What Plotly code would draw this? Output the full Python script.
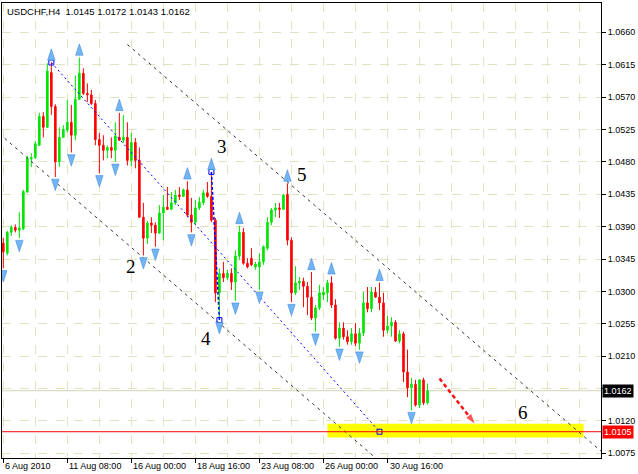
import plotly.graph_objects as go

# ---------------- data ----------------
bar_index = list(range(107))
opens = [1.0367, 1.0353, 1.0382, 1.0389, 1.0385, 1.0387, 1.0438, 1.0484, 1.0486, 1.0503,
         1.0543, 1.0528, 1.0604, 1.0557, 1.0480, 1.0514, 1.0524, 1.0535, 1.0517, 1.0567,
         1.0603, 1.0575, 1.0573, 1.0561, 1.0511, 1.0503, 1.0496, 1.0500, 1.0496, 1.0514,
         1.0510, 1.0514, 1.0482, 1.0507, 1.0482, 1.0403, 1.0374, 1.0395, 1.0392, 1.0381,
         1.0409, 1.0417, 1.0414, 1.0423, 1.0434, 1.0432, 1.0441, 1.0406, 1.0396, 1.0416,
         1.0423, 1.0437, 1.0432, 1.0399, 1.0298, 1.0325, 1.0319, 1.0325, 1.0313, 1.0349,
         1.0382, 1.0339, 1.0346, 1.0334, 1.0334, 1.0341, 1.0360, 1.0396, 1.0413, 1.0416,
         1.0414, 1.0435, 1.0371, 1.0298, 1.0312, 1.0314, 1.0307, 1.0292, 1.0263, 1.0277,
         1.0295, 1.0298, 1.0312, 1.0281, 1.0235, 1.0249, 1.0237, 1.0230, 1.0241, 1.0228,
         1.0242, 1.0284, 1.0276, 1.0299, 1.0292, 1.0284, 1.0246, 1.0252, 1.0257, 1.0231,
         1.0241, 1.0188, 1.0166, 1.0171, 1.0142, 1.0177, 1.0145]
highs = [1.0374, 1.0384, 1.0392, 1.0393, 1.0410, 1.0441, 1.0488, 1.0492, 1.0509, 1.0548,
         1.0549, 1.0617, 1.0618, 1.0560, 1.0528, 1.0531, 1.0566, 1.0559, 1.0600, 1.0625,
         1.0610, 1.0589, 1.0580, 1.0566, 1.0520, 1.0517, 1.0503, 1.0514, 1.0535, 1.0548,
         1.0545, 1.0535, 1.0520, 1.0513, 1.0500, 1.0423, 1.0398, 1.0403, 1.0396, 1.0420,
         1.0434, 1.0445, 1.0438, 1.0441, 1.0445, 1.0443, 1.0453, 1.0430, 1.0427, 1.0431,
         1.0441, 1.0452, 1.0466, 1.0402, 1.0332, 1.0341, 1.0330, 1.0332, 1.0357, 1.0391,
         1.0388, 1.0346, 1.0360, 1.0341, 1.0353, 1.0364, 1.0403, 1.0416, 1.0423, 1.0423,
         1.0435, 1.0450, 1.0375, 1.0335, 1.0320, 1.0319, 1.0313, 1.0327, 1.0281, 1.0309,
         1.0306, 1.0316, 1.0321, 1.0289, 1.0257, 1.0257, 1.0246, 1.0249, 1.0256, 1.0249,
         1.0299, 1.0306, 1.0306, 1.0306, 1.0312, 1.0298, 1.0266, 1.0264, 1.0260, 1.0246,
         1.0244, 1.0219, 1.0180, 1.0177, 1.0178, 1.0180, 1.0172]
lows = [1.0332, 1.0350, 1.0377, 1.0382, 1.0374, 1.0385, 1.0437, 1.0473, 1.0484, 1.0502,
        1.0514, 1.0527, 1.0545, 1.0459, 1.0473, 1.0513, 1.0521, 1.0493, 1.0510, 1.0566,
        1.0573, 1.0563, 1.0559, 1.0503, 1.0464, 1.0482, 1.0485, 1.0485, 1.0480, 1.0509,
        1.0506, 1.0475, 1.0474, 1.0471, 1.0402, 1.0350, 1.0366, 1.0381, 1.0362, 1.0380,
        1.0371, 1.0413, 1.0413, 1.0420, 1.0427, 1.0431, 1.0403, 1.0382, 1.0392, 1.0413,
        1.0420, 1.0430, 1.0396, 1.0285, 1.0260, 1.0313, 1.0316, 1.0302, 1.0287, 1.0344,
        1.0337, 1.0332, 1.0335, 1.0330, 1.0302, 1.0337, 1.0357, 1.0392, 1.0403, 1.0402,
        1.0413, 1.0364, 1.0285, 1.0295, 1.0302, 1.0278, 1.0267, 1.0260, 1.0244, 1.0274,
        1.0288, 1.0285, 1.0277, 1.0233, 1.0223, 1.0233, 1.0226, 1.0226, 1.0224, 1.0219,
        1.0238, 1.0271, 1.0271, 1.0291, 1.0274, 1.0237, 1.0242, 1.0237, 1.0230, 1.0228,
        1.0174, 1.0153, 1.0135, 1.0140, 1.0138, 1.0142, 1.0143]
closes = [1.0355, 1.0382, 1.0389, 1.0385, 1.0388, 1.0439, 1.0485, 1.0486, 1.0505, 1.0543,
          1.0528, 1.0606, 1.0557, 1.0480, 1.0514, 1.0525, 1.0535, 1.0517, 1.0567, 1.0603,
          1.0575, 1.0573, 1.0561, 1.0511, 1.0503, 1.0496, 1.0500, 1.0496, 1.0516, 1.0510,
          1.0514, 1.0482, 1.0507, 1.0482, 1.0403, 1.0374, 1.0395, 1.0392, 1.0381, 1.0409,
          1.0417, 1.0414, 1.0423, 1.0434, 1.0432, 1.0441, 1.0406, 1.0396, 1.0416, 1.0424,
          1.0437, 1.0432, 1.0399, 1.0298, 1.0325, 1.0319, 1.0325, 1.0313, 1.0349, 1.0382,
          1.0339, 1.0334, 1.0337, 1.0338, 1.0341, 1.0362, 1.0396, 1.0413, 1.0416, 1.0414,
          1.0434, 1.0371, 1.0298, 1.0312, 1.0314, 1.0307, 1.0292, 1.0263, 1.0277, 1.0298,
          1.0299, 1.0312, 1.0281, 1.0235, 1.0249, 1.0237, 1.0230, 1.0241, 1.0228, 1.0242,
          1.0284, 1.0276, 1.0299, 1.0292, 1.0284, 1.0246, 1.0252, 1.0257, 1.0231, 1.0241,
          1.0188, 1.0166, 1.0171, 1.0142, 1.0177, 1.0145, 1.0162]

x_tick_bars = [0, 16, 32, 48, 64, 80, 96]
x_tick_labels = ["6 Aug 2010", "11 Aug 08:00", "16 Aug 00:00", "18 Aug 16:00",
                 "23 Aug 08:00", "26 Aug 00:00", "30 Aug 16:00"]
x_grid_bars = [0, 8, 16, 24, 32, 40, 48, 56, 64, 72, 80, 88, 96, 104, 112, 120, 128, 136, 144]
y_tick_values = [1.0075, 1.0120, 1.0165, 1.0210, 1.0255, 1.0300, 1.0345, 1.0390,
                 1.0435, 1.0480, 1.0525, 1.0570, 1.0615, 1.0660]
# the 1.0165 label is hidden behind the bid price box in the original
y_tick_labels = ["1.0075", "1.0120", "", "1.0210", "1.0255", "1.0300", "1.0345", "1.0390",
                 "1.0435", "1.0480", "1.0525", "1.0570", "1.0615", "1.0660"]

fractal_up_bars = [12, 19, 29, 46, 52, 59, 71, 77, 82, 94]
fractal_down_bars = [0, 4, 13, 17, 24, 28, 35, 38, 47, 54, 58, 64, 72, 78, 84, 89, 102]

upper_channel_bars = [31, 150]
upper_channel_prices = [1.0643, 1.0075]
lower_channel_bars = [-1, 94]
lower_channel_prices = [1.0519, 1.0064]
wave_line_bars = [12, 94]
wave_line_prices = [1.0618, 1.0105]
wave34_bars = [52, 54]
wave34_prices = [1.0466, 1.0260]
target_arrow_bars = [109, 118]
target_arrow_prices = [1.0179, 1.0115]
target_zone_bars = [81, 145]
target_zone_prices = [1.0097, 1.0116]
target_level = 1.0105
bid_price = 1.0162

wave_labels = ["2", "3", "4", "5", "6"]
wave_label_bars = [31.9, 54.7, 50.7, 74.7, 129.9]
wave_label_prices = [1.0335, 1.0501, 1.0235, 1.0462, 1.0132]

title_text = "USDCHF,H4\u00a0 1.0145 1.0172 1.0143 1.0162"

# ---------------- figure ----------------
FONT = "Liberation Sans"
GRID = "#e2e2c2"
fig = go.Figure()

fig.add_shape(type="rect", xref="x", yref="y",
              x0=target_zone_bars[0], x1=target_zone_bars[1],
              y0=target_zone_prices[0], y1=target_zone_prices[1],
              fillcolor="#ffff00", line=dict(width=0), layer="between")
fig.add_shape(type="line", xref="paper", yref="y", x0=0, x1=1,
              y0=bid_price, y1=bid_price, line=dict(color="#d4d4bc", width=1), layer="between")

fig.add_trace(go.Candlestick(
    x=bar_index, open=opens, high=highs, low=lows, close=closes,
    increasing=dict(line=dict(color="#00e400", width=1), fillcolor="#00e400"),
    decreasing=dict(line=dict(color="#ff0000", width=1), fillcolor="#ff0000"),
    whiskerwidth=0, showlegend=False, hoverinfo="skip"))

fig.add_trace(go.Scatter(x=upper_channel_bars, y=upper_channel_prices, mode="lines",
                         line=dict(color="#303838", width=1, dash="3px,4px"),
                         showlegend=False, hoverinfo="skip"))
fig.add_trace(go.Scatter(x=lower_channel_bars, y=lower_channel_prices, mode="lines",
                         line=dict(color="#303838", width=1, dash="3px,4px"),
                         showlegend=False, hoverinfo="skip"))
fig.add_trace(go.Scatter(x=wave_line_bars, y=wave_line_prices, mode="lines+markers",
                         line=dict(color="#0000ff", width=1, dash="2px,3px"),
                         marker=dict(symbol="square-open", size=5, color="#0000ff", line=dict(width=1)),
                         showlegend=False, hoverinfo="skip"))
fig.add_trace(go.Scatter(x=wave34_bars, y=wave34_prices, mode="lines+markers",
                         line=dict(color="#0000ff", width=1.5, dash="3px,2px"),
                         marker=dict(symbol="square-open", size=5, color="#0000ff", line=dict(width=1)),
                         showlegend=False, hoverinfo="skip"))

fig.add_trace(go.Scatter(x=fractal_up_bars, y=[highs[i] + 0.0019 for i in fractal_up_bars],
                         mode="markers",
                         marker=dict(symbol="arrow", size=12, color="#73b4f4", angle=0,
                                     line=dict(color="#3f8de0", width=0.6)),
                         showlegend=False, hoverinfo="skip"))
fig.add_trace(go.Scatter(x=fractal_down_bars, y=[lows[i] - 0.0019 for i in fractal_down_bars],
                         mode="markers",
                         marker=dict(symbol="arrow", size=12, color="#73b4f4", angle=180,
                                     line=dict(color="#3f8de0", width=0.6)),
                         showlegend=False, hoverinfo="skip"))

fig.add_trace(go.Scatter(x=target_arrow_bars, y=target_arrow_prices, mode="lines+markers",
                         line=dict(color="#ff1010", width=2.5, dash="4px,3px"),
                         marker=dict(symbol="arrow", size=[0, 12], color="#ff1010", angleref="previous"),
                         showlegend=False, hoverinfo="skip"))

fig.add_shape(type="line", xref="paper", yref="y", x0=0, x1=1,
              y0=target_level, y1=target_level, line=dict(color="#ff0000", width=1), layer="above")

ann = []
for b, t in zip(x_tick_bars, x_tick_labels):
    ann.append(dict(x=b, y=0, xref="x", yref="paper", text=t, showarrow=False,
                    xanchor="left", yanchor="top", xshift=0, yshift=-1,
                    font=dict(family=FONT, size=9, color="black")))
for t, b, p in zip(wave_labels, wave_label_bars, wave_label_prices):
    ann.append(dict(x=b, y=p, xref="x", yref="y", text=t, showarrow=False,
                    font=dict(family="Liberation Serif", size=19, color="black")))
ann.append(dict(x=0, y=1, xref="paper", yref="paper", text=title_text, showarrow=False,
                xanchor="left", yanchor="top", xshift=3, yshift=-1,
                font=dict(family=FONT, size=9.5, color="black")))
ann.append(dict(x=1, y=bid_price, xref="paper", yref="y", text="1.0162", showarrow=False,
                xanchor="left", yanchor="middle", xshift=1, bgcolor="#000000",
                borderpad=1, font=dict(family=FONT, size=9, color="white")))
ann.append(dict(x=1, y=target_level, xref="paper", yref="y", text="1.0105", showarrow=False,
                xanchor="left", yanchor="middle", xshift=1, bgcolor="#ff0000",
                borderpad=1, font=dict(family=FONT, size=9, color="white")))

fig.update_layout(
    width=638, height=474,
    margin=dict(l=2, r=37, t=3, b=16),
    paper_bgcolor="white", plot_bgcolor="white",
    boxgap=0.45,
    annotations=ann,
    xaxis=dict(range=[-0.33, 149.35], rangeslider=dict(visible=False),
               tickmode="array", tickvals=x_tick_bars, showticklabels=False,
               ticks="outside", ticklen=4, tickcolor="black",
               showgrid=True, gridcolor=GRID, griddash="dash", gridwidth=1,
               minor=dict(tickmode="array", tickvals=x_grid_bars, showgrid=True,
                          gridcolor=GRID, griddash="dash", ticks=""),
               showline=True, mirror=True, linecolor="black", linewidth=1, zeroline=False),
    yaxis=dict(range=[1.00685, 1.07007], side="right",
               tickmode="array", tickvals=y_tick_values, ticktext=y_tick_labels,
               ticks="outside", ticklen=4, tickcolor="black",
               tickfont=dict(family=FONT, size=9, color="black"),
               showgrid=True, gridcolor=GRID, griddash="dash", gridwidth=1,
               showline=True, mirror=True, linecolor="black", linewidth=1, zeroline=False),
)

fig.write_html("out.html", config={"displayModeBar": False},
               post_script="document.body.style.margin='0px';document.body.style.overflow='hidden';")
